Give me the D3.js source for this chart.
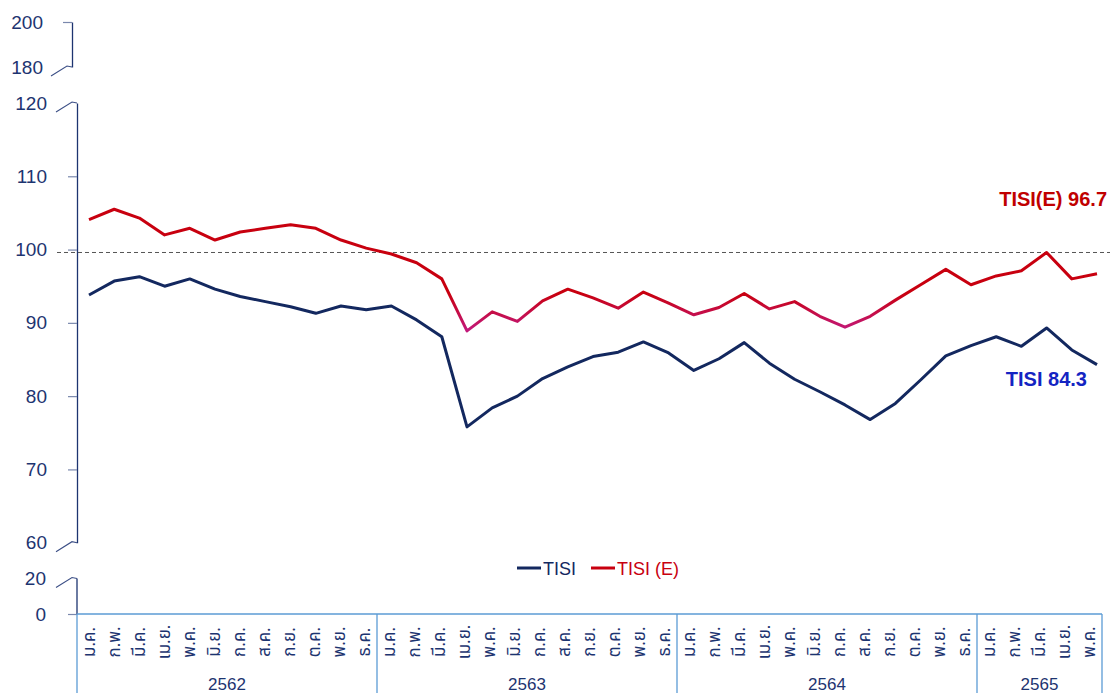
<!DOCTYPE html>
<html>
<head>
<meta charset="utf-8">
<script src="https://cdn.jsdelivr.net/npm/d3@7"></script>
<style>
  body { margin: 0; background: #fff; }
  svg { display: block; font-family: "Liberation Sans", Arial, sans-serif; }
</style>
</head>
<body>
<svg id="chart" width="1110" height="693"></svg>
<script>
// Thai month abbreviations and years (Buddhist era)
const months = ["ม.ค.", "ก.พ.", "มี.ค.", "เม.ย.", "พ.ค.", "มิ.ย.", "ก.ค.", "ส.ค.", "ก.ย.", "ต.ค.", "พ.ย.", "ธ.ค."];
const years = ["2562", "2563", "2564", "2565"];
const monthsPerYear = [12, 12, 12, 5];

// TISI index, monthly
const tisi = [
  93.8, 95.7, 96.3, 95.0, 96.0, 94.6, 93.6, 92.9, 92.2, 91.3, 92.3, 91.8,
  92.3, 90.4, 88.1, 75.8, 78.4, 80.0, 82.4, 84.0, 85.4, 86.0, 87.4, 85.9,
  83.5, 85.1, 87.3, 84.5, 82.3, 80.6, 78.8, 76.8, 79.0, 82.2, 85.5, 86.9,
  88.1, 86.8, 89.3, 86.3, 84.3
];
// TISI expectation index (3 months ahead), monthly
const tisiE = [
  104.1, 105.5, 104.3, 102.0, 102.9, 101.3, 102.4, 102.9, 103.4, 102.9, 101.3, 100.2,
  99.4, 98.2, 96.0, 88.9, 91.5, 90.2, 93.0, 94.6, 93.4, 92.0, 94.2, 92.7,
  91.1, 92.1, 94.0, 91.9, 92.9, 90.9, 89.4, 90.9, 93.1, 95.2, 97.3, 95.2,
  96.4, 97.1, 99.6, 96.0, 96.7
];

// broken y axis: three pieces
const topTicks = [200, 180];
const mainTicks = [120, 110, 100, 90, 80, 70, 60];
const bottomTicks = [20, 0];
const refValue = 99.6;

const navy = "#1d3470";
const tickGrey = "#7a88ad";
const lightBlue = "#5b9bd5";

const svg = d3.select("#chart");

// periods built from year / month lists
const periods = [];
years.forEach((y, yi) => {
  months.slice(0, monthsPerYear[yi]).forEach(m => periods.push({ year: y, month: m }));
});
const idx = d3.range(periods.length);

const xBand = d3.scaleBand().domain(idx).range([77, 1102]);
const x = d3.scalePoint().domain(idx).range([89, 1097]);

const yTop = d3.scaleLinear().domain([180, 200]).range([67, 22]);
const yMain = d3.scaleLinear().domain([60, 120]).range([542.7, 103]);
const yBot = d3.scaleLinear().domain([0, 20]).range([614, 578.5]);

// small diagonal "break" mark joining an axis end
function drawBreak(g, y) {
  g.append("path")
    .attr("d", `M-21,${y + 9}L-5,${y - 1}L0,${y}`)
    .attr("fill", "none")
    .attr("stroke", "#3c4f86")
    .attr("stroke-width", 1.1);
}

function yAxis(scale, ticks, ax, pad, breaks) {
  const g = svg.append("g")
    .attr("transform", `translate(${ax},0)`)
    .call(d3.axisLeft(scale).tickValues(ticks).tickSize(9).tickSizeOuter(0).tickPadding(pad));
  g.select(".domain").attr("stroke", navy).attr("stroke-width", 1.3);
  g.selectAll(".tick line").attr("stroke", tickGrey).attr("stroke-width", 1.2);
  g.selectAll(".tick text")
    .attr("fill", navy)
    .attr("font-size", 19)
    .attr("font-family", "Liberation Sans, Arial, sans-serif");
  g.selectAll(".tick").filter(d => breaks.includes(d)).select("line").remove();
  breaks.forEach(b => drawBreak(g, scale(b)));
  return g;
}

yAxis(yTop, topTicks, 72, 20, [180]);
yAxis(yMain, mainTicks, 77, 21, [120, 60]);
const gb = yAxis(yBot, bottomTicks, 77, 22, [20]);
gb.select(".domain").attr("d", `M0,${yBot(20)}V${yBot(0)}`);

// reference dashed line
svg.append("line")
  .attr("x1", 57).attr("x2", 1110)
  .attr("y1", yMain(refValue)).attr("y2", yMain(refValue))
  .attr("stroke", "#555")
  .attr("stroke-width", 1)
  .attr("stroke-dasharray", "4,3");

// category axis (months grouped by year)
const cat = svg.append("g");
cat.append("line")
  .attr("x1", xBand.range()[0]).attr("x2", xBand.range()[1])
  .attr("y1", 614).attr("y2", 614)
  .attr("stroke", lightBlue).attr("stroke-width", 1.5);

let start = 0;
const bounds = [];
monthsPerYear.forEach(n => { bounds.push([start, start + n]); start += n; });
const sepX = bounds.map(b => xBand(b[0])).concat([xBand.range()[1]]);
cat.selectAll("line.sep")
  .data(sepX)
  .enter().append("line")
  .attr("class", "sep")
  .attr("x1", d => d).attr("x2", d => d)
  .attr("y1", 614).attr("y2", 693)
  .attr("stroke", lightBlue).attr("stroke-width", 1.3);

cat.selectAll("text.month")
  .data(periods)
  .enter().append("text")
  .attr("class", "month")
  .attr("transform", (d, i) => `translate(${xBand(i) + xBand.bandwidth() / 2},642) rotate(-90)`)
  .attr("text-anchor", "middle")
  .attr("dominant-baseline", "central")
  .attr("font-size", 17)
  .attr("font-family", "Noto Sans Thai, Tahoma, sans-serif")
  .attr("fill", navy)
  .text(d => d.month);

cat.selectAll("text.year")
  .data(years)
  .enter().append("text")
  .attr("class", "year")
  .attr("x", (d, i) => (xBand(bounds[i][0]) + xBand(bounds[i][1] - 1) + xBand.bandwidth()) / 2)
  .attr("y", 690)
  .attr("text-anchor", "middle")
  .attr("font-size", 17)
  .attr("fill", navy)
  .text(d => d);

// gradient for the red series (turns magenta in the low dips)
const grad = svg.append("defs").append("linearGradient")
  .attr("id", "redGrad")
  .attr("gradientUnits", "userSpaceOnUse")
  .attr("x1", 0).attr("x2", 0)
  .attr("y1", yMain(94)).attr("y2", yMain(89));
grad.append("stop").attr("offset", 0).attr("stop-color", "#c8000f");
grad.append("stop").attr("offset", 1).attr("stop-color", "#c2197a");

const line = d3.line()
  .x((d, i) => x(i))
  .y(d => yMain(d));

svg.append("path")
  .datum(tisiE)
  .attr("d", line)
  .attr("fill", "none")
  .attr("stroke", "url(#redGrad)")
  .attr("stroke-width", 3)
  .attr("stroke-linejoin", "round");

svg.append("path")
  .datum(tisi)
  .attr("d", line)
  .attr("fill", "none")
  .attr("stroke", "#13285f")
  .attr("stroke-width", 3)
  .attr("stroke-linejoin", "round");

// end labels
svg.append("text")
  .attr("x", 1107).attr("y", 206)
  .attr("text-anchor", "end")
  .attr("font-size", 20).attr("font-weight", "bold")
  .attr("fill", "#c00000")
  .text("TISI(E) " + tisiE[tisiE.length - 1].toFixed(1));

svg.append("text")
  .attr("x", 1087).attr("y", 386)
  .attr("text-anchor", "end")
  .attr("font-size", 20).attr("font-weight", "bold")
  .attr("fill", "#1424c2")
  .text("TISI " + tisi[tisi.length - 1].toFixed(1));

// legend
const legend = [
  { name: "TISI", color: "#13285f", x: 517 },
  { name: "TISI (E)", color: "#c8000f", x: 591 }
];
const lg = svg.append("g").selectAll("g")
  .data(legend)
  .enter().append("g")
  .attr("transform", d => `translate(${d.x},568)`);
lg.append("line")
  .attr("x1", 0).attr("x2", 24)
  .attr("stroke", d => d.color).attr("stroke-width", 3);
lg.append("text")
  .attr("x", 26).attr("y", 6.5)
  .attr("font-size", 18)
  .attr("fill", d => d.color)
  .text(d => d.name);
</script>
</body>
</html>
